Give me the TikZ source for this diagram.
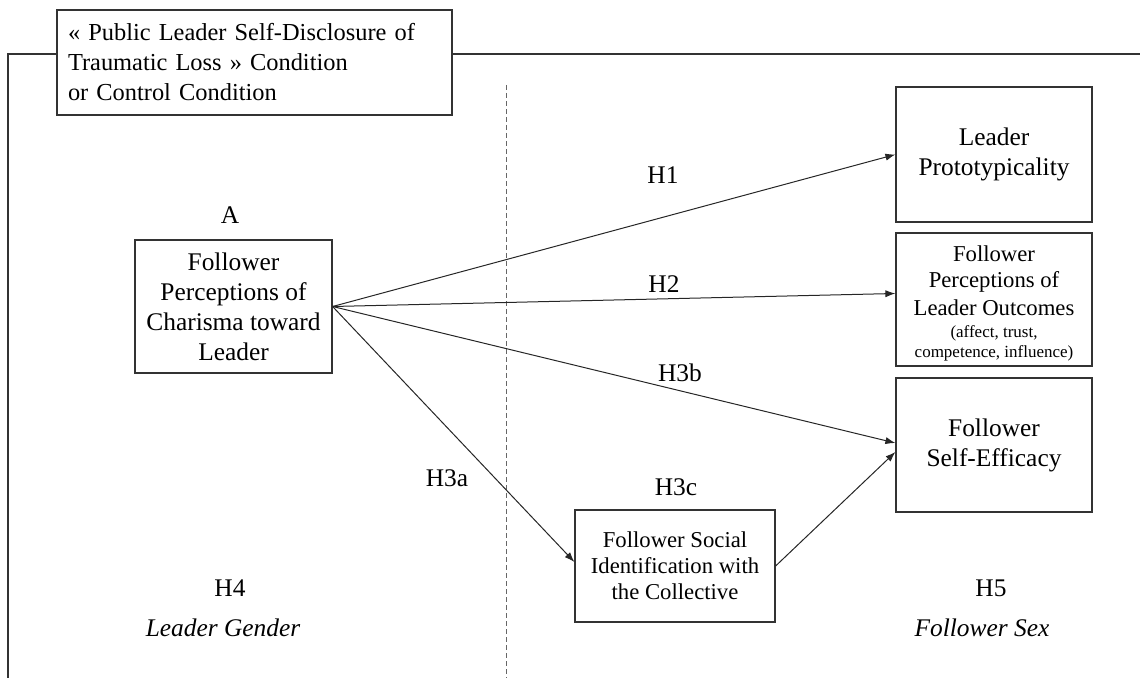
\documentclass[tikz,border=0pt]{standalone}
\usepackage{fontspec}
\setmainfont{Liberation Serif}
\usetikzlibrary{arrows}
\usetikzlibrary{arrows.meta}
\usetikzlibrary{calc}
\usepackage{xcolor}

\tikzset{
  box/.style={draw=black!80, line width=0.6pt, align=center, inner sep=0pt},
  bigtext/.style={font=\fontsize{12.7}{15}\selectfont},
  midtext/.style={font=\fontsize{11.35}{13}\selectfont},
  link/.style={draw=black!85, line width=0.5pt, ->},
  frameline/.style={draw=black!80, line width=0.6pt},
  divider/.style={draw=black!60, line width=0.5pt, dash pattern=on 2.5pt off 1.5pt}
}

\begin{document}
\begin{tikzpicture}[x=0.5pt,y=-0.5pt,>={Latex[length=5pt,width=3.6pt]}]
      \useasboundingbox (0,0) rectangle (1140,678);

      % Condition box
      \node[box, font=\fontsize{12.2}{15}\selectfont, align=left, text width=186.5pt, inner xsep=5.5pt,
            minimum width=197.5pt, minimum height=52.5pt] (cond) at (254.5,62.5)
        {« Public Leader Self-Disclosure of\\Traumatic Loss » Condition\\or Control Condition};

      % Frame and divider
      \draw[frameline] (cond.west |- 0,54) -- (8,54) -- (8,678);
      \draw[frameline] (cond.east |- 0,54) -- (1140,54);
      \draw[divider] (506,85) -- (506,678);

      % Boxes
      \node[box, bigtext, minimum width=98.5pt, minimum height=66.5pt] (charisma) at (233.5,306.5)
        {Follower\\Perceptions of\\Charisma toward\\Leader};
      \node[box, bigtext, minimum width=98pt, minimum height=67.5pt] (proto) at (994,154.5)
        {Leader\\Prototypicality};
      \node[box, midtext, minimum width=98pt, minimum height=66.5pt] (outcomes) at (994,299.5)
        {\rule{0pt}{12pt}Follower\\Perceptions of\\[1pt]Leader Outcomes\\[-2pt]
         {\fontsize{8.5}{10}\selectfont (affect, trust,}\\[-3pt]
         {\fontsize{8.5}{10}\selectfont competence, influence)}};
      \node[box, bigtext, minimum width=98pt, minimum height=67pt] (efficacy) at (994,445)
        {Follower\\Self-Efficacy};
      \node[box, midtext, minimum width=100pt, minimum height=56pt] (socid) at (675,566)
        {Follower Social\\Identification with\\the Collective};

      % Labels
      \foreach \lab/\px/\py in {A/230/215, H1/663/175, H2/664/284, H3b/680/373,
                                H3a/447/478, H3c/676/487, H4/230/588, H5/991/588}
      {
        \node[bigtext] (lab\lab) at (\px,\py) {\lab};
      }
      \node[font=\fontsize{12.7}{15}\selectfont\itshape] (gender) at (223,628) {Leader Gender};
      \node[font=\fontsize{12.7}{15}\selectfont\itshape] (sex) at (982,628) {Follower Sex};

      % Paths
      \draw[link] (charisma.east) -- (proto.west);
      \draw[link] (charisma.east) -- ($(outcomes.west)+(0,-6)$);
      \draw[link] (charisma.east) -- ($(efficacy.west)+(0,-2)$);
      \draw[link] (charisma.east) -- ($(socid.west)+(0,-4)$);
      \draw[link] (socid.east) -- ($(efficacy.west)+(0,7)$);

\end{tikzpicture}
\end{document}
